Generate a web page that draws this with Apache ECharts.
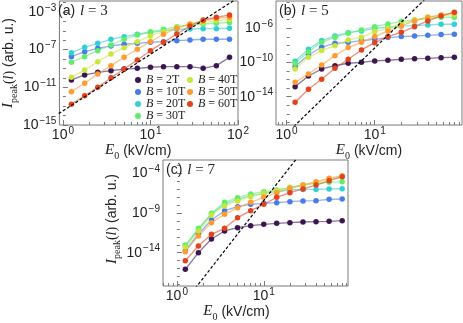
<!DOCTYPE html>
<html>
<head>
<meta charset="utf-8">
<script src="https://cdn.jsdelivr.net/npm/echarts@6/dist/echarts.min.js"></script>
<style>
  html, body { margin: 0; padding: 0; background: #fff; }
  #chart { width: 463px; height: 323px; }
</style>
</head>
<body>
<div id="chart"></div>
<script>
// E0 (kV/cm), same 13 field strengths in every panel
const E0 = [1.25, 1.77, 2.5, 3.54, 5, 7.07, 10, 14.1, 20, 28.3, 40, 56.6, 80];
const fields = ["2T", "10T", "20T", "30T", "40T", "50T", "60T"];

// log10 of I_peak(l), one row per field (same order as fields)
const logI_l3 = [
  [-10.22, -9.69, -9.41, -9.24, -9.06, -8.98, -8.87, -8.81, -8.81, -8.81, -8.98, -8.70, -7.81],
  [-7.75, -7.22, -6.86, -6.61, -6.43, -6.33, -6.22, -6.16, -6.05, -5.98, -5.90, -5.90, -5.90],
  [-7.32, -6.75, -6.33, -5.90, -5.63, -5.37, -5.16, -5.02, -4.84, -4.81, -4.78, -4.78, -4.73],
  [-8.34, -7.75, -7.11, -6.51, -5.90, -5.45, -5.10, -4.84, -4.56, -4.38, -4.28, -4.20, -4.14],
  [-9.94, -9.16, -8.28, -7.46, -6.79, -6.16, -5.55, -5.10, -4.63, -4.31, -4.14, -3.93, -3.78],
  [-11.46, -10.57, -9.59, -8.70, -7.81, -6.96, -6.16, -5.37, -4.73, -4.28, -3.96, -3.67, -3.56],
  [-12.80, -11.89, -11.00, -9.98, -9.06, -8.10, -7.11, -6.22, -5.34, -4.49, -3.85, -3.57, -3.32],
];
const logI_l5 = [
  [-12.83, -11.58, -10.76, -10.37, -10.09, -9.98, -9.82, -9.74, -9.63, -9.56, -9.51, -9.44, -9.39],
  [-10.48, -9.12, -8.22, -7.75, -7.64, -7.44, -7.29, -7.09, -6.97, -6.90, -6.82, -6.74, -6.70],
  [-9.86, -8.46, -7.44, -6.90, -6.51, -6.31, -6.00, -5.88, -5.73, -5.69, -5.61, -5.53, -5.53],
  [-10.09, -8.73, -7.64, -7.05, -6.58, -6.19, -5.81, -5.49, -5.22, -5.03, -4.83, -4.71, -4.71],
  [-10.76, -9.39, -8.61, -8.03, -7.36, -7.05, -6.39, -6.00, -5.49, -5.03, -4.71, -4.56, -4.40],
  [-12.32, -11.34, -10.29, -9.20, -8.26, -7.64, -6.97, -6.31, -5.73, -5.14, -4.71, -4.44, -4.17],
  [-14.66, -13.13, -11.96, -10.68, -9.63, -8.53, -7.68, -6.97, -6.47, -5.81, -5.14, -4.56, -4.13],
];
const logI_l7 = [
  [-16.09, -13.99, -12.27, -11.26, -10.84, -10.59, -10.42, -10.30, -10.21, -10.13, -10.09, -10.05, -9.96],
  [-13.74, -11.64, -9.88, -8.70, -8.20, -7.90, -7.78, -7.69, -7.57, -7.48, -7.44, -7.27, -7.23],
  [-13.15, -11.05, -9.12, -7.86, -7.27, -6.81, -6.52, -6.31, -6.10, -6.02, -6.02, -5.97, -5.93],
  [-13.03, -10.93, -9.04, -7.65, -7.06, -6.60, -6.31, -6.10, -5.76, -5.47, -5.26, -5.13, -5.05],
  [-13.32, -11.26, -9.25, -8.11, -7.48, -6.94, -6.52, -6.18, -5.81, -5.47, -5.13, -4.76, -4.42],
  [-13.87, -11.89, -10.21, -9.16, -8.32, -7.65, -7.02, -6.43, -5.89, -5.47, -5.05, -4.63, -4.29],
  [-15.00, -13.15, -11.68, -10.93, -9.58, -8.70, -7.90, -7.02, -6.43, -5.97, -5.47, -4.92, -4.42],
];

// dashed guide lines, [E0, log10 I] end points
const guide_l3 = [[0.8, -14.08], [110, -1.25]];
const guide_l5 = [[1.1, -17.89], [40, -2.28]];
const guide_l7 = [[1.5, -18.97], [25, -1.87]];

// tick label exponents
const xTicks = [0, 1, 2];
const yTicks_l3 = [-15, -11, -7, -3];
const yTicks_l5 = [-14, -10, -6];
const yTicks_l7 = [-14, -9, -4];

const colors = ["#3b1650", "#4a7ce6", "#33cfd6", "#60ee6a", "#c9e63c", "#ff9b30", "#e2431a"];
const frame = "#7a7a7a";
const ink = "#222";
const sans = "Liberation Sans";
const serif = "Liberation Serif";

const panels = [
  { tag: "(a)", l: 3, rows: logI_l3, guide: guide_l3, yTicks: yTicks_l3,
    grid: { left: 55, top: 1, width: 183, height: 124 }, x: [-0.04, 2.0], y: [-15, -1.84],
    xNameGap: 20, xNamePad: [0, 21, 0, 0], yName: true, yNameGap: 36, yNamePad: [0, 0, 0, 0] },
  { tag: "(b)", l: 5, rows: logI_l5, guide: guide_l5, yTicks: yTicks_l5,
    grid: { left: 276, top: 1, width: 186, height: 124 }, x: [-0.12, 1.99], y: [-17.31, -2.81],
    xNameGap: 20, xNamePad: [0, 0, 0, 0], yName: false },
  { tag: "(c)", l: 7, rows: logI_l7, guide: guide_l7, yTicks: yTicks_l7,
    grid: { left: 163, top: 160, width: 185, height: 126 }, x: [-0.16, 1.97], y: [-18.19, -2.32],
    xNameGap: 16, xNamePad: [0, 38, 0, 0], yName: true, yNameGap: 30, yNamePad: [0, 0, 0, 8] },
];

const labelRich = {
  b: { fontFamily: sans, fontSize: 14, color: ink, verticalAlign: "bottom", lineHeight: 14 },
  s: { fontFamily: sans, fontSize: 10, color: ink, verticalAlign: "bottom", lineHeight: 10, padding: [0, 0, 6, 1] },
};
function powLabel(v) {
  const e = Math.round(v);
  return "{b|10}{s|" + (e < 0 ? "\u2212" + -e : e) + "}";
}

const nameRich = {
  i: { fontFamily: serif, fontStyle: "italic", fontSize: 15, color: ink, verticalAlign: "bottom", lineHeight: 15, padding: [0, 0, 3, 0] },
  il: { fontFamily: serif, fontStyle: "italic", fontSize: 14, color: ink, verticalAlign: "bottom", lineHeight: 14, padding: [0, 0, 3, 0] },
  r: { fontFamily: serif, fontSize: 14, color: ink, verticalAlign: "bottom", lineHeight: 14, padding: [0, 0, 3, 0] },
  sub: { fontFamily: serif, fontSize: 10, color: ink, verticalAlign: "bottom", lineHeight: 10 },
  t: { fontFamily: sans, fontSize: 14, color: ink, verticalAlign: "bottom", lineHeight: 14, padding: [0, 0, 3, 0] },
};

function minorX(range) {
  const out = [];
  for (let d = -1; d <= 2; d++) {
    for (let k = 2; k <= 9; k++) {
      const v = d + Math.log10(k);
      if (v > range[0] && v < range[1]) out.push(v);
    }
  }
  return out;
}
function decadesY(range) {
  const out = [];
  for (let v = Math.ceil(range[0]); v <= range[1]; v++) out.push(v);
  return out;
}

const names = fields.map((f) => "B = " + f);
const grid = [], xAxis = [], yAxis = [], series = [], title = [];

panels.forEach((p, k) => {
  grid.push(Object.assign({ show: true, borderColor: frame, borderWidth: 1, backgroundColor: "transparent" }, p.grid));
  const majorX = xTicks.filter((v) => v >= p.x[0] - 1e-9 && v <= p.x[1] + 1e-9);

  xAxis.push({
    type: "value", gridIndex: k, position: "bottom", min: p.x[0], max: p.x[1],
    axisLine: { show: false }, splitLine: { show: false },
    axisTick: { inside: true, length: 5, lineStyle: { color: frame }, customValues: majorX },
    axisLabel: { customValues: majorX, formatter: powLabel, rich: labelRich, margin: 3 },
    name: "{i|E}{sub|0}{t| (kV/cm)}", nameLocation: "middle", nameGap: p.xNameGap,
    nameTextStyle: { rich: nameRich, padding: p.xNamePad },
  });
  xAxis.push({
    type: "value", gridIndex: k, position: "bottom", min: p.x[0], max: p.x[1],
    axisLine: { show: false }, splitLine: { show: false }, axisLabel: { show: false },
    axisTick: { inside: true, length: 3, lineStyle: { color: frame }, customValues: minorX(p.x) },
  });

  yAxis.push(Object.assign({
    type: "value", gridIndex: k, position: "left", min: p.y[0], max: p.y[1],
    axisLine: { show: false }, splitLine: { show: false },
    axisTick: { inside: true, length: 5, lineStyle: { color: frame }, customValues: p.yTicks },
    axisLabel: { customValues: p.yTicks, formatter: powLabel, rich: labelRich, margin: 3 },
  }, p.yName ? {
    name: "{i|I}{sub|peak}{r|(}{il|l}{r|)}{t| (arb. u.)}", nameLocation: "middle", nameGap: p.yNameGap,
    nameRotate: 90, nameTextStyle: { rich: nameRich, padding: p.yNamePad },
  } : {}));
  yAxis.push({
    type: "value", gridIndex: k, position: "left", min: p.y[0], max: p.y[1],
    axisLine: { show: false }, splitLine: { show: false }, axisLabel: { show: false },
    axisTick: { inside: true, length: 3, lineStyle: { color: frame }, customValues: decadesY(p.y) },
  });

  p.rows.forEach((row, j) => {
    series.push({
      type: "line", name: names[j], xAxisIndex: 2 * k, yAxisIndex: 2 * k,
      data: E0.map((e, i) => [Math.log10(e), row[i]]),
      symbol: "circle", symbolSize: 5.5, showSymbol: true,
      itemStyle: { color: colors[j] },
      lineStyle: { color: colors[j], width: 1.3, opacity: 0.6 },
      z: 3, clip: true,
    });
  });
  series.push({
    type: "line", xAxisIndex: 2 * k, yAxisIndex: 2 * k,
    data: p.guide.map((g) => [Math.log10(g[0]), g[1]]),
    symbol: "none", lineStyle: { color: "#000", width: 1.2, type: [3, 2] },
    z: 5, clip: true, silent: true,
  });

  title.push({
    text: "{p|" + p.tag + "} {i|l}{e| = " + p.l + "}",
    left: p.grid.left + 3, top: p.grid.top + 1, padding: 0,
    textStyle: {
      fontWeight: "normal",
      rich: {
        p: { fontFamily: sans, fontSize: 14, fontWeight: "normal", color: ink },
        i: { fontFamily: serif, fontStyle: "italic", fontWeight: "normal", fontSize: 15, color: ink },
        e: { fontFamily: serif, fontWeight: "normal", fontSize: 15, color: ink },
      },
    },
  });
});

const legendCommon = {
  orient: "vertical", icon: "circle", itemWidth: 6, itemHeight: 6, itemGap: 0, padding: 0,
  selectedMode: false,
  formatter: (n) => "{i|B}{t|" + n.slice(1) + "}",
  textStyle: {
    rich: {
      i: { fontFamily: serif, fontStyle: "italic", fontSize: 12, color: ink, lineHeight: 10 },
      t: { fontFamily: serif, fontSize: 12, color: ink, lineHeight: 10 },
    },
  },
};

const chart = echarts.init(document.getElementById("chart"));
chart.setOption({
  animation: false,
  backgroundColor: "#fff",
  title,
  grid,
  xAxis,
  yAxis,
  legend: [
    Object.assign({ data: names.slice(0, 4), left: 135, top: 74 }, legendCommon),
    Object.assign({ data: names.slice(4), left: 187, top: 74 }, legendCommon),
  ],
  series,
});
</script>
</body>
</html>
